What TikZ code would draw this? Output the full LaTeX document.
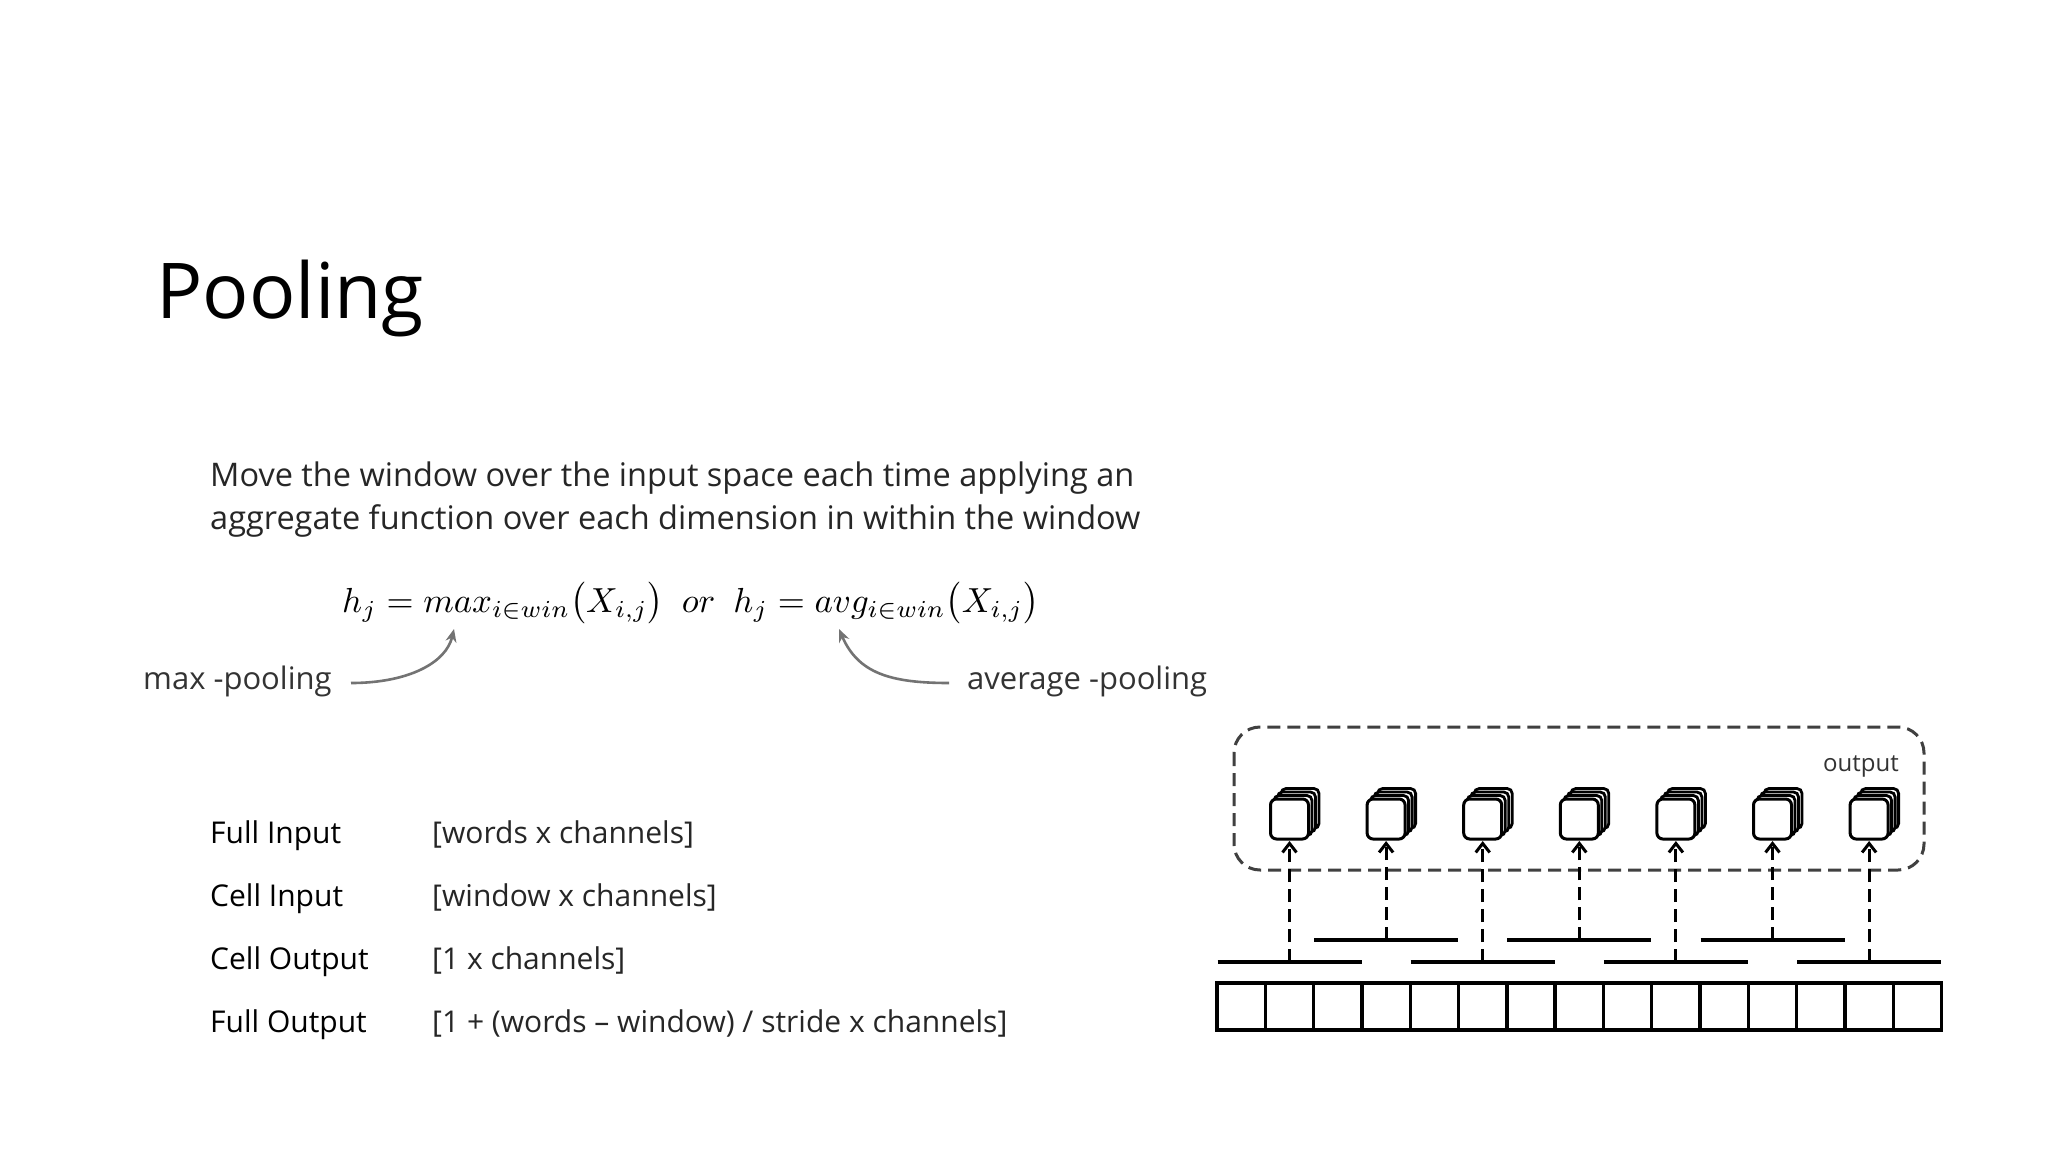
\documentclass[tikz,border=0pt]{standalone}
\usepackage{graphicx}
\usepackage{fontspec}
\setmainfont{Open Sans}
\usetikzlibrary{arrows.meta}
\begin{document}
\begin{tikzpicture}[x=1pt,y=-1pt,
  body/.style={anchor=base west,inner sep=0,font=\fontsize{32.5}{43}\selectfont,text=black!85},
  lab/.style={anchor=base west,inner sep=0,font=\fontsize{30}{36}\selectfont,text=black},
  val/.style={anchor=base west,inner sep=0,font=\fontsize{30}{36}\selectfont,text=black!85},
  note/.style={anchor=base west,inner sep=0,font=\fontsize{31}{36}\selectfont,text=black!80},
  curv/.style={draw=black!55,line width=2.6pt,-{Stealth[length=13pt,width=11pt]}},
  dia/.style={line width=3.4pt},
  dsh/.style={line width=3pt,dash pattern=on 13pt off 7pt}]
\useasboundingbox (0,0) rectangle (2048,1152);
\fill[white] (0,0) rectangle (2048,1152);
\node[anchor=base west,inner sep=0,font=\fontsize{77}{84}\selectfont] (title) at (156,318) {Pooling};
\node[body] (p1) at (210,486) {Move the window over the input space each time applying an};
\node[body] (p2) at (210,529) {aggregate function over each dimension in within the window};
\node[anchor=base west,inner sep=0] (eq) at (342,612)
 {\resizebox{697pt}{!}{$h_j = max_{i\in win}\bigl(X_{i,j}\bigr)\ \ or\ \ h_j = avg_{i\in win}\bigl(X_{i,j}\bigr)$}};
\node[note] (mp) at (143,689) {max -pooling};
\node[note] (ap) at (967,689) {average -pooling};
\coordinate (m0) at (351,683); \coordinate (m1) at (454,629);
\coordinate (a0) at (949,683); \coordinate (a1) at (839,629);
\draw[curv] (m0) .. controls (408,683) and (446,663) .. (m1);
\draw[curv] (a0) .. controls (890,683) and (858,673) .. (a1);
\node[lab] (l1) at (210,843) {Full Input};
\node[lab] (l2) at (210,906) {Cell Input};
\node[lab] (l3) at (210,969) {Cell Output};
\node[lab] (l4) at (210,1032) {Full Output};
\node[val] (v1) at (432,843) {[words x channels]};
\node[val] (v2) at (432,906) {[window x channels]};
\node[val] (v3) at (432,969) {[1 x channels]};
\node[val] (v4) at (432,1032) {[1 + (words -- window) / stride x channels]};
% diagram
\draw[dsh,rounded corners=26pt,draw=black!75] (1234,727) rectangle (1924,870);
\node[anchor=base,inner sep=0,font=\fontsize{24}{28}\selectfont,text=black!80] (out) at (1861,771) {output};
\foreach \i in {0,...,14}{
  \draw[dia] ({1217+\i*48.3},983) rectangle ({1217+(\i+1)*48.3},1030);
}
\foreach \i in {0,...,6}{
  \pgfmathsetmacro{\cx}{1289.5+\i*96.6}
  \pgfmathsetmacro{\by}{mod(\i,2)==0 ? 962 : 940}
  \draw[dia] ({\cx-72},\by) -- ({\cx+72},\by);
  \coordinate (b\i) at (\cx,\by);
  \foreach \k in {3,2,1}{
    \draw[line width=2.8pt,rounded corners=5pt,fill=white] ({\cx-19+\k*3.5},{799-\k*3.5}) rectangle ({\cx+19+\k*3.5},{839-\k*3.5});
  }
  \draw[line width=3pt,rounded corners=6pt,fill=white] ({\cx-19},799) rectangle ({\cx+19},839);
  \coordinate (t\i) at (\cx,841);
  \draw[dsh,-{Straight Barb[length=9pt,width=14pt]}] (b\i) -- (t\i);
}
\end{tikzpicture}
\end{document}
